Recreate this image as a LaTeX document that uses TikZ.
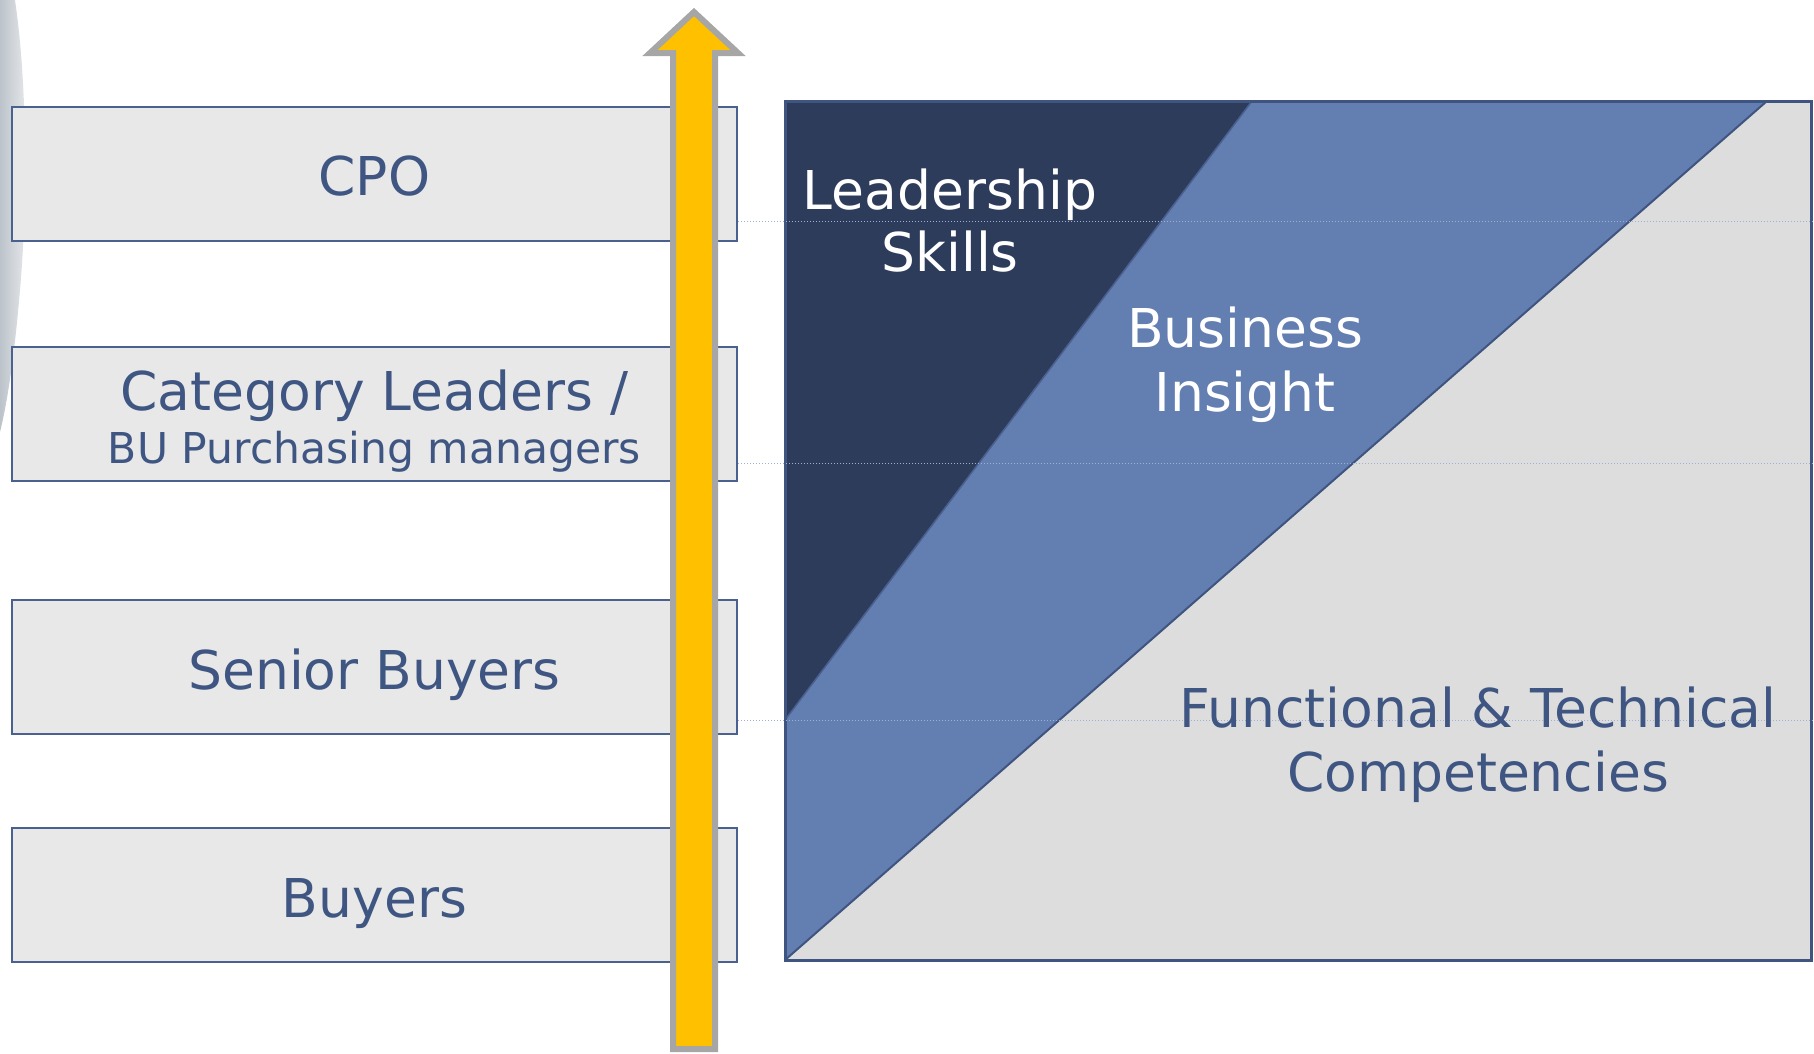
\documentclass[tikz,border=0pt]{standalone}
\usepackage{fontspec}
\setmainfont{DejaVu Sans}
\usetikzlibrary{shadings}

\definecolor{textblue}{HTML}{3F5683}
\definecolor{boxline}{HTML}{4A6190}
\definecolor{boxfill}{HTML}{E8E8E8}
\definecolor{navy}{HTML}{2E3C5C}
\definecolor{midblue}{HTML}{637EB1}
\definecolor{panelgray}{HTML}{DDDDDD}
\definecolor{frameblue}{HTML}{3F5580}
\definecolor{arrowgold}{HTML}{FFC000}
\definecolor{arrowedge}{HTML}{A6A6A6}
\definecolor{guideblue}{HTML}{9DB1D8}
\definecolor{sidedark}{HTML}{BCC3CA}
\definecolor{sidelight}{HTML}{E8EAEC}

\tikzset{
  lvlbox/.style={draw=boxline, fill=boxfill, line width=2pt,
    minimum width=725pt, minimum height=134pt, inner sep=0pt},
  lvltext/.style={text=textblue, anchor=base, inner sep=0pt,
    font=\fontsize{53.5}{64}\selectfont},
  lvlsmall/.style={text=textblue, anchor=base, inner sep=0pt,
    font=\fontsize{42.5}{50}\selectfont},
  paneltext/.style={text=white, anchor=base, inner sep=0pt,
    font=\fontsize{53.5}{64}\selectfont},
  guide/.style={guideblue, line width=1pt, dotted},
}

\begin{document}
\begin{tikzpicture}[x=1pt, y=-1pt]
\useasboundingbox (0,0) rectangle (1814,1053);

% soft grey edge on the left
\shade[left color=sidedark, right color=sidelight]
  (0,0) -- (15,0) .. controls (27,80) and (28,200) .. (20,290)
  .. controls (15,350) and (8,400) .. (0,432) -- cycle;

% level boxes
\node[lvlbox] (cpo)    at (374.5,174) {};
\node[lvlbox] (catl)   at (374.5,414) {};
\node[lvlbox] (senior) at (374.5,667) {};
\node[lvlbox] (buyers) at (374.5,895) {};

% upward arrow across the levels
\draw[arrowedge, fill=arrowgold, line width=6pt, line join=miter]
  (694,12) -- (738,53) -- (715,53) -- (715,1049) -- (673,1049)
  -- (673,53) -- (650,53) -- cycle;

% competency panel
\coordinate (ptl) at (785,101);
\coordinate (ptr) at (1811,101);
\coordinate (pbr) at (1811,960);
\coordinate (pbl) at (785,960);
\coordinate (lsplit) at (1252,101);
\coordinate (lbase) at (785,720);
\coordinate (bsplit) at (1767,101);

\fill[panelgray] (bsplit) -- (ptr) -- (pbr) -- (pbl) -- cycle;
\fill[midblue] (lsplit) -- (bsplit) -- (pbl) -- (lbase) -- cycle;
\fill[navy] (ptl) -- (lsplit) -- (lbase) -- cycle;
\draw[color=boxline, line width=1.5pt] (lsplit) -- (lbase);
\draw[color=frameblue, line width=2pt] (bsplit) -- (pbl);
\draw[color=frameblue, line width=3pt] (ptl) -- (ptr) -- (pbr) -- (pbl) -- cycle;

% dotted level guides
\coordinate (g1a) at (738,221);  \coordinate (g1b) at (1814,221);
\coordinate (g2a) at (738,463);  \coordinate (g2b) at (1814,463);
\coordinate (g3a) at (738,720);  \coordinate (g3b) at (1814,720);
\draw[guide] (g1a) -- (g1b);
\draw[guide] (g2a) -- (g2b);
\draw[guide] (g3a) -- (g3b);

% level labels
\node[lvltext]  (tcpo)  at (374.5,195) {CPO};
\node[lvltext]  (tcat)  at (374.5,410) {Category Leaders /};
\node[lvlsmall] (tbu)   at (374.5,463) {BU Purchasing managers};
\node[lvltext]  (tsen)  at (374.5,689) {Senior Buyers};
\node[lvltext]  (tbuy)  at (374.5,917) {Buyers};

% competency labels
\node[paneltext] (lead1) at (950,209) {Leadership};
\node[paneltext] (lead2) at (950,271) {Skills};
\node[paneltext] (bus1)  at (1245,347) {Business};
\node[paneltext] (bus2)  at (1245,411) {Insight};
\node[lvltext]   (fun1)  at (1478,727) {Functional \& Technical};
\node[lvltext]   (fun2)  at (1478,791) {Competencies};
\end{tikzpicture}
\end{document}
